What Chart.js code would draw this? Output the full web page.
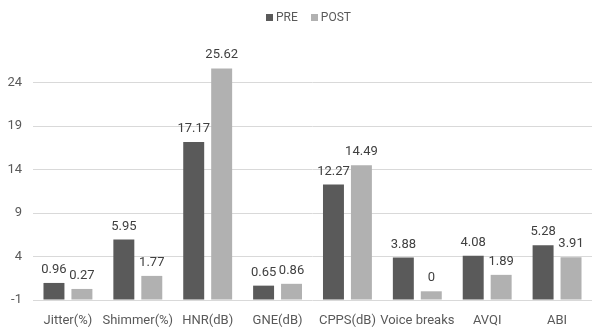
<!DOCTYPE html>
<html>
<head>
<meta charset="utf-8">
<script src="https://cdn.jsdelivr.net/npm/chart.js@4/dist/chart.umd.min.js"></script>
<style>
  html, body { margin: 0; padding: 0; background: #ffffff; }
  #wrap { width: 593px; height: 327px; position: relative; }
</style>
</head>
<body>
<div id="wrap"><canvas id="c" width="593" height="327"></canvas></div>
<script>
// Acoustic voice measures before and after therapy
const categories = ['Jitter(%)', 'Shimmer(%)', 'HNR(dB)', 'GNE(dB)', 'CPPS(dB)', 'Voice breaks', 'AVQI', 'ABI'];
const preValues  = [0.96, 5.95, 17.17, 0.65, 12.27, 3.88, 4.08, 5.28];
const postValues = [0.27, 1.77, 25.62, 0.86, 14.49, 0, 1.89, 3.91];
const yTicks = [-1, 4, 9, 14, 19, 24];

const FONT = 'Roboto, "Liberation Sans", sans-serif';
const TEXT = '#595959';

// Draws each bar's value just above its top
const valueLabels = {
  id: 'valueLabels',
  afterDatasetsDraw(chart) {
    const ctx = chart.ctx;
    ctx.save();
    ctx.font = '13px ' + FONT;
    ctx.fillStyle = '#404040';
    ctx.textAlign = 'center';
    ctx.textBaseline = 'alphabetic';
    chart.data.datasets.forEach((ds, i) => {
      chart.getDatasetMeta(i).data.forEach((bar, j) => {
        ctx.fillText(String(ds.data[j]), bar.x, bar.y - 10);
      });
    });
    ctx.restore();
  }
};

// Compact legend row centred above the plot
const topLegend = {
  id: 'topLegend',
  afterDraw(chart) {
    const ctx = chart.ctx;
    const box = 7, gap = 3, spacing = 13, cy = 17.5;
    ctx.save();
    ctx.font = '12px ' + FONT;
    ctx.textBaseline = 'middle';
    ctx.textAlign = 'left';
    const items = chart.data.datasets.map(ds => ({ text: ds.label, color: ds.backgroundColor, w: ctx.measureText(ds.label).width }));
    const total = items.reduce((s, it) => s + box + gap + it.w, 0) + spacing * (items.length - 1);
    let x = (chart.chartArea.left + chart.chartArea.right) / 2 - 4 - total / 2;
    items.forEach(it => {
      ctx.fillStyle = it.color;
      ctx.fillRect(Math.round(x), Math.round(cy - box / 2), box, box);
      x += box + gap;
      ctx.fillStyle = TEXT;
      ctx.fillText(it.text, x, cy + 0.5);
      x += it.w + spacing;
    });
    ctx.restore();
  }
};

new Chart(document.getElementById('c'), {
  type: 'bar',
  data: {
    labels: categories,
    datasets: [
      { label: 'PRE', data: preValues, backgroundColor: '#5a5a5a', base: -1 },
      { label: 'POST', data: postValues, backgroundColor: '#b1b1b1', base: -1 }
    ]
  },
  options: {
    responsive: false,
    animation: false,
    devicePixelRatio: 1,
    layout: { padding: { top: 39, right: 1, left: 0, bottom: 0 } },
    datasets: { bar: { categoryPercentage: 0.8, barPercentage: 0.75 } },
    plugins: {
      legend: { display: false },
      tooltip: { enabled: false }
    },
    scales: {
      x: {
        grid: { display: false },
        border: { display: false },
        ticks: { color: TEXT, font: { family: FONT, size: 13 }, padding: 5, maxRotation: 0, autoSkip: false },
        afterFit(scale) { scale.height = 27; }
      },
      y: {
        min: -1, max: 29,
        afterBuildTicks(scale) { scale.ticks = yTicks.map(v => ({ value: v })); },
        grid: { color: '#d9d9d9', drawTicks: false, lineWidth: 1 },
        border: { display: false },
        ticks: { color: TEXT, font: { family: FONT, size: 13 }, padding: 11 },
        afterFit(scale) { scale.width = 33; }
      }
    }
  },
  plugins: [valueLabels, topLegend]
});
</script>
</body>
</html>
